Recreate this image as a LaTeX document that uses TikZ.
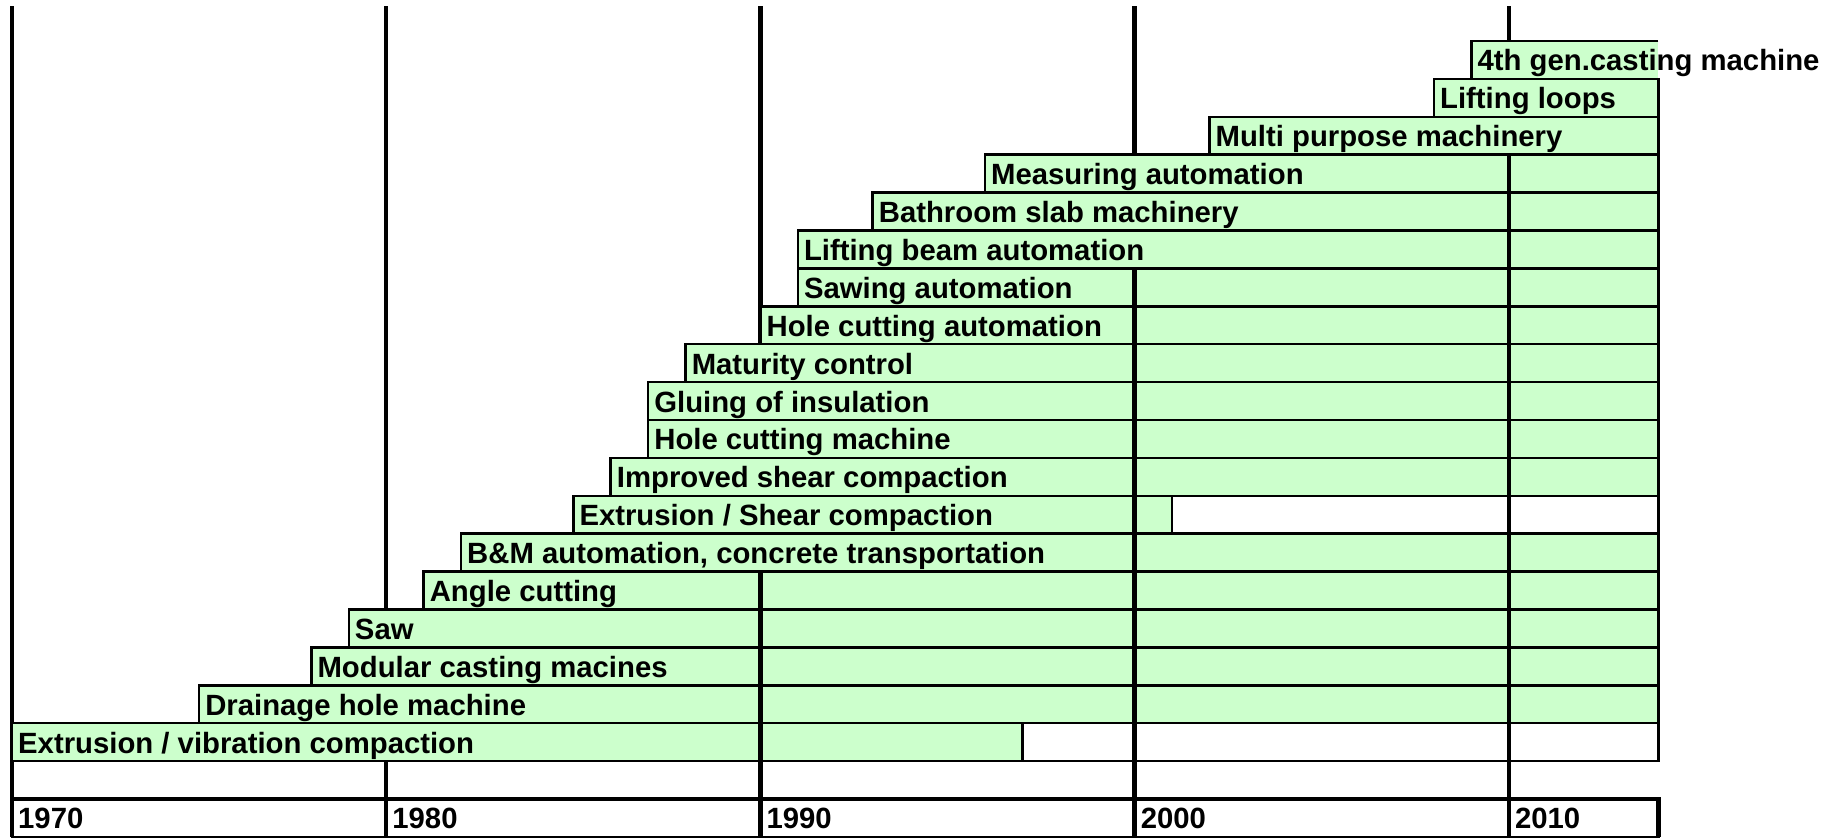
\documentclass[tikz,border=0pt]{standalone}
\usepackage{fontspec}
\setmainfont{Liberation Sans}
\definecolor{bargreen}{HTML}{CCFFCC}
\tikzset{
  bar/.style={fill=bargreen, draw=black, line width=2.5pt},
  blank/.style={fill=white, draw=black, line width=2.5pt},
  decade/.style={draw=black, line width=4.5pt},
  lbl/.style={anchor=base west, inner sep=0pt, font=\bfseries\fontsize{29.3}{35}\selectfont},
}
\begin{document}
\begin{tikzpicture}[x=1pt,y=1pt]
\useasboundingbox (0,0) rectangle (1834,-839);
\begin{scope}[shift={(12pt,-41pt)}, x=37.42pt, y=-37.9pt]
  % background decade lines
  \foreach \d in {0,10,20,30,40} \draw[decade] (\d,-0.9235) -- (\d,20);
  % first bar: its text overflows the right edge, so no right border
  \fill[bargreen] (39,0) rectangle (44,1);
  \draw[line width=2.5pt] (44,0) -- (39,0) -- (39,1) -- (44,1);
  % bars
  \foreach \r/\s/\e in {2/38/44, 3/32/44, 4/26/44, 5/23/44, 6/21/44,
      7/21/44, 8/20/44, 9/18/44, 10/17/44, 11/17/44, 12/16/44, 13/15/31,
      14/12/44, 15/11/44, 16/9/44, 17/8/44, 18/5/44, 19/0/27}
    \draw[bar] (\s,\r-1) rectangle (\e,\r);
  % empty cells
  \draw[blank] (31,12) rectangle (44,13);
  \draw[blank] (27,18) rectangle (44,19);
  % decade dividers visible inside bars
  \foreach \r/\d in {4/40, 5/40, 6/40, 7/30, 7/40, 8/30, 8/40, 9/30, 9/40,
      10/30, 10/40, 11/30, 11/40, 12/30, 12/40, 13/30, 13/40, 14/30, 14/40,
      15/20, 15/30, 15/40, 16/20, 16/30, 16/40, 17/20, 17/30, 17/40,
      18/20, 18/30, 18/40, 19/20, 19/30, 19/40}
    \draw[decade] (\d,\r-1) -- (\d,\r);
  % labels
  \foreach \r/\s/\t in {1/39/{4th gen.casting machine}, 2/38/{Lifting loops},
      3/32/{Multi purpose machinery}, 4/26/{Measuring automation},
      5/23/{Bathroom slab machinery}, 6/21/{Lifting beam automation},
      7/21/{Sawing automation}, 8/20/{Hole cutting automation},
      9/18/{Maturity control}, 10/17/{Gluing of insulation},
      11/17/{Hole cutting machine}, 12/16/{Improved shear compaction},
      13/15/{Extrusion / Shear compaction},
      14/12/{B\&M automation, concrete transportation},
      15/11/{Angle cutting}, 16/9/{Saw}, 17/8/{Modular casting macines},
      18/5/{Drainage hole machine}, 19/0/{Extrusion / vibration compaction}}
    \node[lbl] (t\r) at ([xshift=6pt,yshift=8pt]\s,\r) {\t};
  % year row
  \draw[line width=2.5pt] (0,20) rectangle (44,21);
  \draw[decade] (0,20) -- (44,20) -- (44,21);
  \foreach \d in {0,10,20,30,40} \draw[decade] (\d,20) -- (\d,21);
  \foreach \d/\y in {0/1970, 10/1980, 20/1990, 30/2000, 40/2010}
    \node[lbl] (y\y) at ([xshift=6pt,yshift=8pt]\d,21) {\y};
\end{scope}
\end{tikzpicture}
\end{document}
